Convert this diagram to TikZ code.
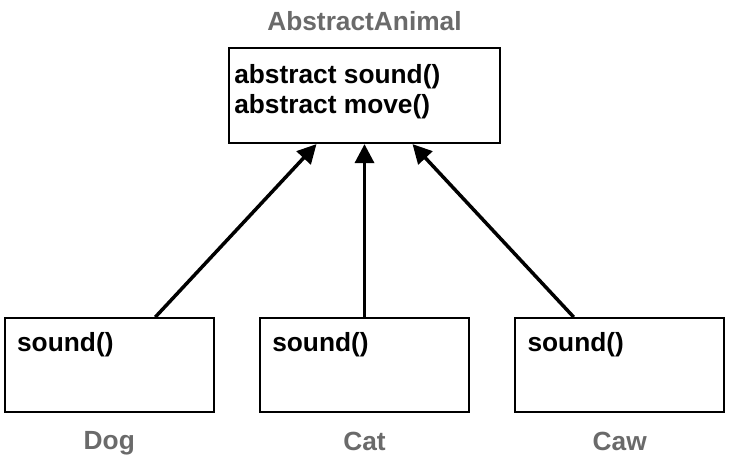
\documentclass[tikz,border=0pt]{standalone}
\usepackage{fontspec}
\setmainfont{Liberation Sans}
\usepackage{xcolor}
\usepackage{tikz}
\usetikzlibrary{positioning,arrows.meta}
\definecolor{ink}{HTML}{000000}
\definecolor{caption}{HTML}{6A6A6A}
\newcommand{\meth}[1]{\textbf{#1}}

\begin{document}
\begin{tikzpicture}[every node/.style={font=\fontsize{13.2}{15.2}\selectfont\bfseries,inner sep=0pt},
    classbox/.style={draw=ink,line width=1.1bp,minimum width=104.5bp,minimum height=47bp},
    method/.style={align=left,text=ink},
    classname/.style={text=caption},
    inherit/.style={-{Triangle[length=9.5bp,width=9.5bp]},line width=1.75bp,ink}]
    \useasboundingbox (0,0) rectangle (365bp,-236bp);
    \node[classbox,minimum width=135.5bp,minimum height=47.5bp] (animal) at (182.25bp,-47.75bp) {};
    \node[classbox,below=86.5bp of animal] (cat) {};
    \node[classbox,left=22bp of cat] (dog) {};
    \node[classbox,right=22bp of cat] (caw) {};
    % class names
    \node[classname,above=8bp of animal] (animalname) {AbstractAnimal};
    \node[classname,below=9bp of dog] (dogname) {Dog};
    \node[classname,below=9bp of cat] (catname) {Cat};
    \node[classname,below=9bp of caw] (cawname) {Caw};
    % methods
    \node[method,below right=8.5bp and 3bp of animal.north west] (animalmeth) {\meth{abstract sound()}\\\meth{abstract move()}};
    \node[method,below right=7.5bp and 6.5bp of dog.north west] (dogmeth) {\meth{sound()}};
    \node[method,below right=7.5bp and 6.5bp of cat.north west] (catmeth) {\meth{sound()}};
    \node[method,below right=7.5bp and 6.5bp of caw.north west] (cawmeth) {\meth{sound()}};
    \draw[inherit] ([xshift=23bp]dog.north) -- ([xshift=-24bp]animal.south);
    \draw[inherit] (cat.north) -- (cat.north |- animal.south);
    \draw[inherit] ([xshift=-23bp]caw.north) -- ([xshift=24bp]animal.south);
\end{tikzpicture}
\end{document}
